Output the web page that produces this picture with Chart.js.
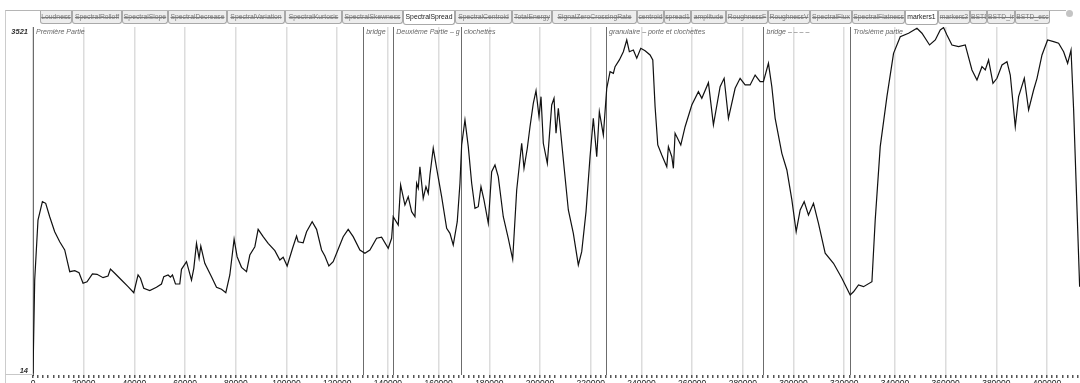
<!DOCTYPE html>
<html lang="fr">
<head>
    <meta charset="UTF-8">
    <title>SpectralSpread</title>
    <script src="https://cdn.jsdelivr.net/npm/chart.js"></script>
    <style>
        html, body { margin: 0; padding: 0; background: #fff; overflow: hidden; }
        body { width: 1080px; height: 383px; position: relative; }

        /* panel frame */
        #frame {
            position: absolute; left: 5px; top: 10px; width: 1060px; height: 400px;
            border-left: 1px solid #cccccc; border-top: 1px solid #b5b5b5;
        }
        #stub {
            position: absolute; left: 5px; top: 374px; width: 28px; height: 0;
            border-top: 1px solid #c8c8c8;
        }
        #chart-container { position: absolute; left: 0; top: 0; width: 1080px; height: 395px; }

        /* layer tabs */
        #tabs {
            position: absolute; left: 40px; top: 11px; height: 14px; white-space: nowrap;
            font-family: 'Liberation Sans', sans-serif; font-size: 6.8px;
        }
        .tab {
            display: inline-block; box-sizing: border-box; height: 13px; line-height: 12px;
            text-align: center; overflow: hidden; vertical-align: top;
            border: 1px solid #a9a9a9; border-top: none; border-radius: 0 0 3px 3px;
            background: #ededed; color: #7a7a7a; text-decoration: line-through;
        }
        .tab.on { background: #fff; color: #222; text-decoration: none; height: 14px; }
        #knob {
            position: absolute; left: 1066px; top: 10px; width: 7px; height: 7px;
            border-radius: 50%; background: #c4c4c4;
        }
    </style>
</head>
<body>
    <div id="frame"></div>
    <div id="stub"></div>
    <div id="chart-container">
        <canvas id="spreadChart"></canvas>
    </div>
    <div id="tabs"></div>
    <div id="knob"></div>

    <script>
        // layer tabs (name, width in px, active?)
        const tabNames = ['Loudness', 'SpectralRolloff', 'SpectralSlope', 'SpectralDecrease', 'SpectralVariation',
            'SpectralKurtosis', 'SpectralSkewness', 'SpectralSpread', 'SpectralCentroid', 'TotalEnergy',
            'SignalZeroCrossingRate', 'centroid', 'spread1', 'amplitude', 'RoughnessF', 'RoughnessV',
            'SpectralFlux', 'SpectralFlatness', 'markers1', 'markers2', 'BSTD', 'BSTD_inc', 'BSTD_esc'];
        const tabWidths = [32, 50, 46, 59, 58, 57, 61, 52, 57, 40, 85, 27, 27, 35, 42, 42, 42, 53, 33, 32, 17, 28, 35];
        const activeTabs = ['SpectralSpread', 'markers1'];

        // time axis (samples) and spread values
        const spreadX = [0, 670, 1970, 3710, 5010, 6590, 8560, 10540, 12510, 14490,
            16460, 18160, 19740, 21310, 23450, 25260, 27630, 29600, 30550, 32250,
            34890, 37500, 39750, 41440, 42390, 43690, 46060, 48700, 50680, 51590,
            53280, 54230, 55020, 56200, 57900, 58570, 60550, 62520, 63430, 64490,
            65520, 66190, 67770, 70410, 72390, 74360, 76060, 77640, 79330, 80520,
            82260, 84230, 85530, 87510, 88810, 90780, 92760, 95400, 97370, 98680,
            100250, 102390, 103960, 104590, 106570, 107910, 110120, 111860, 113830, 115130,
            116710, 118410, 120380, 122360, 124330, 126300, 128950,
            130920, 132890, 135540, 137510, 140120, 141460, 142090, 144070, 145010, 146710,
            148010, 149360, 150660, 151330, 151960, 152630, 153930, 155000, 155910, 156580,
            157880, 159220, 161190, 163170, 164470, 165770, 167350, 168420, 169090, 170390,
            171700, 173040, 174340, 175640, 176710, 177890, 179590, 180930, 182230, 183530,
            185510, 187480, 189220, 190800, 192770, 193680, 194980, 196050, 197350, 198420,
            199600, 200390, 201300, 202880, 204610, 205520, 206310, 207220, 209470, 211170,
            213140, 215110, 216450, 218150, 219730, 221030, 222370, 223400, 224980, 226320,
            227630, 228930, 229600, 231300, 232870, 234210, 235240, 236820, 238160, 239740,
            241440, 243410, 244480, 245390, 246450, 248030, 250000, 250640, 251980, 252610,
            253280, 255530, 257230, 259870, 262480, 263820, 266430, 268400, 271040,
            272620, 274320, 276960, 278930, 280910, 282880, 284850, 286830, 288130, 290100,
            291440, 292750, 295390, 297370, 299340, 301040, 302620, 304200, 305890, 307870,
            309840, 312480, 315760, 319070, 322350, 323660, 325630, 327610, 330920, 332220,
            334200, 336840, 339450, 342090, 345370, 348680, 350660, 353660, 355910, 357880,
            359180, 360520, 362490, 365100, 367740, 370380, 372360, 374330, 375630, 376940,
            378670, 380250, 382220, 384200, 385500, 387470, 388780, 391030, 392730, 394700,
            396040, 398010, 400220, 402590, 404560, 406540, 408120, 409460, 410490, 412860];
        const spreadY = [30, 971, 1576, 1761, 1744, 1609, 1458, 1357, 1274, 1055,
            1065, 1045, 938, 954, 1032, 1029, 995, 1012, 1082, 1039,
            971, 904, 843, 1022, 989, 888, 864, 898, 931, 1005,
            1022, 999, 1022, 931, 931, 1079, 1156, 971, 1089, 1341,
            1190, 1314, 1140, 1005, 898, 878, 843, 1022, 1382, 1206,
            1099, 1055, 1223, 1307, 1482, 1408, 1341, 1267, 1173, 1200,
            1112, 1291, 1415, 1357, 1347, 1458, 1559, 1482, 1274, 1213,
            1112, 1156, 1281, 1408, 1482, 1408, 1274,
            1241, 1274, 1392, 1402, 1291, 1392, 1609, 1526, 1929, 1727,
            1811, 1660, 1609, 1946, 1896, 2113, 1795, 1912, 1845, 2030,
            2299, 2097, 1811, 1492, 1442, 1324, 1559, 1946, 2332, 2584,
            2315, 1946, 1694, 1710, 1912, 1778, 1543, 2063, 2130, 2013,
            1609, 1392, 1180, 1878, 2349, 2097, 2299, 2516, 2752, 2879,
            2617, 2819, 2349, 2147, 2735, 2803, 2450, 2702, 2113, 1677,
            1442, 1123, 1257, 1660, 2214, 2601, 2214, 2667, 2433, 2903,
            3071, 3054, 3121, 3189, 3272, 3390, 3272, 3289, 3206, 3306,
            3282, 3239, 3189, 2718, 2332, 2231, 2113, 2315, 2214, 2097,
            2450, 2332, 2516, 2735, 2869, 2803, 2960, 2534, 2919,
            3004, 2601, 2903, 3004, 2937, 2937, 3037, 2970, 2970, 3155,
            2919, 2601, 2248, 2080, 1778, 1458, 1677, 1761, 1626, 1744,
            1543, 1241, 1140, 989, 820, 853, 921, 904, 954, 1576,
            2315, 2819, 3256, 3423, 3458, 3508, 3458, 3340, 3390, 3491,
            3515, 3441, 3340, 3323, 3340, 3088, 2987, 3121, 3088, 3189,
            2954, 3004, 3138, 3171, 3037, 2516, 2819, 3004, 2685, 2886,
            3004, 3239, 3390, 3373, 3357, 3272, 3155, 3289, 2685, 904];

        // section markers (markers1 layer)
        const markerX = [0, 130250, 142100, 168800, 226050, 288150, 322400];
        const markerLabels = ['Première Partie', 'bridge', 'Deuxième Partie – g', 'clochettes',
            'granulaire – porte et clochettes', 'bridge – – – –', 'Troisième partie'];

        // axes
        const yMin = 14;
        const yMax = 3521;
        const yTickValues = [14, 3521];
        const xMax = 413000;
        const xMinorStep = 2000;
        const xLabelStep = 20000;

        // build tab strip
        const tabBox = document.getElementById('tabs');
        tabNames.forEach((name, i) => {
            const el = document.createElement('span');
            el.className = 'tab' + (activeTabs.includes(name) ? ' on' : '');
            el.style.width = tabWidths[i] + 'px';
            el.textContent = name;
            tabBox.appendChild(el);
        });

        // marker lines + labels
        const markerPlugin = {
            id: 'markers',
            beforeDatasetsDraw(chart) {
                const { ctx, chartArea, scales: { x } } = chart;
                ctx.save();
                ctx.strokeStyle = '#6c6c6c';
                ctx.lineWidth = 1;
                markerX.forEach(v => {
                    const px = Math.round(x.getPixelForValue(v)) + 0.5;
                    ctx.beginPath();
                    ctx.moveTo(px, chartArea.top);
                    ctx.lineTo(px, chartArea.bottom);
                    ctx.stroke();
                });
                ctx.font = 'italic 7px "Liberation Sans", sans-serif';
                ctx.fillStyle = '#666';
                ctx.textBaseline = 'middle';
                markerX.forEach((v, i) => {
                    const px = x.getPixelForValue(v);
                    const next = i + 1 < markerX.length ? x.getPixelForValue(markerX[i + 1]) : chartArea.right;
                    ctx.save();
                    ctx.beginPath();
                    ctx.rect(px, chartArea.top, next - px - 1, 12);
                    ctx.clip();
                    ctx.fillText(markerLabels[i], px + 3, chartArea.top + 5);
                    ctx.restore();
                });
                ctx.restore();
            }
        };

        const ctx = document.getElementById('spreadChart').getContext('2d');

        const config = {
            type: 'line',
            data: {
                datasets: [{
                    label: 'SpectralSpread',
                    data: spreadX.map((v, i) => ({ x: v, y: spreadY[i] })),
                    borderColor: '#111',
                    borderWidth: 1.2,
                    pointRadius: 0,
                    tension: 0,
                    fill: false
                }]
            },
            options: {
                responsive: true,
                maintainAspectRatio: false,
                animation: false,
                layout: { padding: { top: 27, left: 0, right: 0, bottom: 0 } },
                plugins: {
                    legend: { display: false },
                    tooltip: { enabled: false }
                },
                scales: {
                    x: {
                        type: 'linear',
                        min: 0,
                        max: xMax,
                        afterFit(s) { s.height = 20; },
                        // one tick every 2000 samples, a label every 20000
                        afterBuildTicks(s) {
                            const t = [];
                            for (let v = 0; v <= xMax; v += xMinorStep) t.push({ value: v });
                            s.ticks = t;
                        },
                        border: { display: false },
                        grid: {
                            color: c => (c.tick && c.tick.value % xLabelStep === 0) ? '#dcdcdc' : 'rgba(0,0,0,0)',
                            lineWidth: 1.5,
                            tickColor: '#555',
                            tickLength: 3
                        },
                        ticks: {
                            autoSkip: false,
                            maxRotation: 0,
                            padding: 1,
                            color: '#222',
                            font: { size: 8.5, family: 'Liberation Sans' },
                            callback: v => v % xLabelStep === 0 ? String(v) : ''
                        }
                    },
                    y: {
                        min: yMin,
                        max: yMax,
                        afterFit(s) { s.width = 33; },
                        afterBuildTicks(s) { s.ticks = yTickValues.map(v => ({ value: v })); },
                        grid: { display: false, drawTicks: false },
                        border: { display: true, color: '#444' },
                        ticks: {
                            padding: 5,
                            color: '#333',
                            font: { size: 7.5, weight: 'bold', style: 'italic', family: 'Liberation Sans' },
                            callback: v => v === yMax ? ['', String(v)] : [String(v), '']
                        }
                    }
                }
            },
            plugins: [markerPlugin]
        };

        const spreadChart = new Chart(ctx, config);
    </script>
</body>
</html>
